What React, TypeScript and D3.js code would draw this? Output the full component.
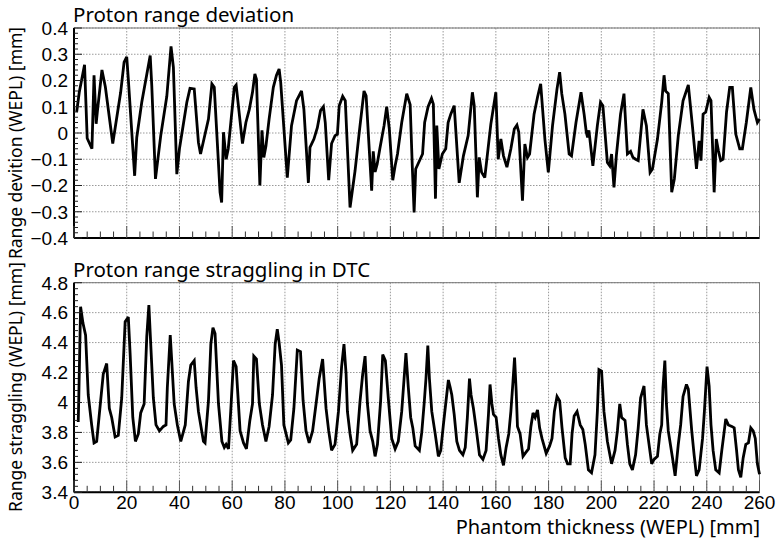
import React from "react";
import * as d3 from "d3";

// ---- data ----
const devThickness = [
  1, 2, 4, 5, 6.8, 7.6, 8.4, 8.9, 10.6, 11.9, 14.7, 17.7, 19, 20, 20.6, 23, 23.8, 25.7, 28.9, 29.5,
  30.9, 32.9, 35.2, 36.8, 37.7, 39, 40, 42.8, 44, 45.6, 47.2, 48, 51, 52.3, 53.2, 55.4, 56, 56.7, 57.7, 58.5,
  60.8, 61.5, 63.9, 65.2, 66.5, 67.7, 68.6, 69.2, 70.5, 71.3, 72, 72.8, 74, 75.6, 76.8, 77.8, 78.4, 80.9,
  82.5, 84.4, 86.3, 87.2, 88.9, 89.5, 91, 92.3, 93.5, 94.6, 95.3, 96.6, 97.7, 99, 99.9, 100.6, 101.9, 102.9,
  104.7, 106.6, 108.2, 110, 110.8, 112.9, 113.5, 114.2, 115, 116, 117.6, 118.6, 119.6, 120.9, 121.8, 122.7,
  124.3, 126.2, 127.5, 128.3, 129, 129.6, 131.3, 132.2, 133, 134.3, 135.6, 136.3, 137.1, 137.6, 138.4, 139.7,
  141, 141.9, 142.9, 144.2, 146.1, 147.7, 149.5, 151.1, 151.8, 153, 153.7, 154.6, 155.8, 158.1, 160, 160.9,
  161.9, 162.9, 164.2, 165.7, 167, 168, 168.7, 170.1, 171, 172, 172.8, 174.5, 175.8, 177, 178.6, 179.9,
  181.5, 183.2, 184.2, 185, 186.2, 187.8, 188.7, 190.4, 192.3, 193.5, 194.3, 194.8, 195.3, 196.8, 198.5,
  199.7, 200.6, 202.3, 203.2, 203.9, 204.8, 205.7, 207.3, 208.6, 209.9, 211.1, 212, 213, 214, 215.8, 217.1,
  218.5, 219.4, 221.3, 222.9, 223.8, 224.4, 225.4, 226.7, 227.7, 229.2, 231, 233, 234.6, 236.1, 237.1,
  237.8, 238.6, 239.6, 240.9, 241.6, 242.8, 243.6, 244.4, 245.3, 246.2, 247.5, 248.7, 249.7, 251, 252.5,
  253.5, 255, 256.7, 257.9, 259.2, 260,
];
const deviation = [
  0.08, 0.155, 0.26, -0.02, -0.06, 0.22, 0.035, 0.085, 0.24, 0.175, -0.04, 0.155, 0.27, 0.29, 0.205, -0.163, -0.017, 0.117, 0.295, 0.18,
  -0.175, -0.01, 0.14, 0.33, 0.25, -0.157, -0.06, 0.117, 0.17, 0.168, -0.036, -0.08, 0.053, 0.187, 0.174, -0.226, -0.265, 0.003, -0.1, -0.06,
  0.174, 0.183, -0.04, 0.04, 0.09, 0.155, 0.225, 0.205, -0.2, 0.01, -0.093, -0.05, 0.053, 0.174, 0.22, 0.244, 0.193, -0.17,
  0.028, 0.123, 0.16, 0.09, -0.19, -0.055, -0.023, 0.02, 0.085, 0.1, 0.04, -0.18, -0.04, -0.01, -0.005, 0.104, 0.14, 0.123,
  -0.284, -0.144, 0.003, 0.16, 0.142, -0.22, -0.07, -0.148, -0.118, -0.06, 0.028, 0.1, 0.015, -0.18, -0.125, -0.08,
  0.04, 0.15, 0.108, -0.125, -0.303, -0.137, -0.1, -0.08, 0.04, 0.1, 0.132, 0.11, -0.25, 0.028, -0.137, -0.08,
  -0.06, 0.04, 0.072, 0.104, -0.19, -0.087, -0.01, 0.155, 0.104, -0.245, -0.093, -0.15, -0.17, 0.034, 0.155, -0.1,
  -0.023, -0.087, -0.13, -0.06, 0.015, 0.03, 0.003, -0.258, -0.042, -0.093, -0.08, 0.072, 0.136, 0.187, -0.023, -0.15,
  0.028, 0.168, 0.232, 0.15, 0.072, -0.08, -0.087, 0.04, 0.155, 0.07, 0.003, -0.017, 0.01, -0.125, 0.028,
  0.117, 0.104, -0.112, -0.125, -0.08, -0.207, -0.087, 0.072, 0.15, -0.08, -0.07, -0.093, -0.1, -0.105, 0.09, 0.028,
  -0.15, -0.137, -0.023, 0.117, 0.22, 0.16, 0.15, -0.226, -0.175, -0.01, 0.123, 0.183, 0.022, -0.137, -0.03,
  -0.105, 0.072, 0.08, 0.136, 0.123, -0.226, -0.023, -0.067, -0.105, -0.1, 0.08, 0.174, 0.174, -0.004, -0.06,
  -0.06, 0.04, 0.174, 0.09, 0.04, 0.053,
];

const stragThickness = [
  1.6, 1.8, 2.5, 3.4, 4.4, 5.4, 6.7, 7.6, 8.6, 10.1, 11.1, 12.4, 13.4, 14.3, 15.6, 16.8, 18.1, 19.4, 20.6, 21.3,
  22.3, 23.3, 24.4, 25.3, 26.6, 27.6, 28.4, 29.1, 30.1, 31.1, 32.4, 33.9, 34.9, 35.4, 36.5, 37, 38, 39.2, 40.5, 42.2,
  43.4, 44.3, 45.6, 46.3, 47.2, 49.1, 49.7, 51, 51.9, 52.7, 53.5, 54.8, 56.1, 57, 57.7, 58.6, 59.5, 60.5, 61.5, 63,
  64.3, 65.4, 66.7, 67.7, 68.2, 69.2, 70.3, 71.5, 72.8, 74, 75.3, 76.3, 77.1, 77.8, 78.7, 79.6, 81.3, 82.2, 83.4,
  84.7, 85.9, 86.9, 88, 89.2, 90.5, 91.8, 93, 94.3, 95.6, 96.6, 97.7, 99, 100.3, 101.5, 102.4, 103.2, 103.7, 104.7,
  105.7, 107.2, 108.5, 109.5, 110.4, 111.3, 112.3, 113.3, 114.2, 115.1, 116.3, 117.1, 118.1, 119.2, 120.5, 121.8,
  123, 124.3, 125.2, 125.9, 126.8, 127.7, 128.5, 129.4, 131, 131.9, 132.8, 133.5, 134.2, 134.8, 135.7, 137, 138.2,
  139.1, 140.1, 141.1, 142, 142.7, 143.3, 144.2, 145.2, 146.2, 147.5, 148.4, 149.2, 150, 150.6, 151.5, 152.5, 153.8,
  155.1, 156.3, 157.2, 157.8, 158.5, 159.1, 160.1, 161, 161.9, 162.9, 163.9, 164.9, 165.7, 166.5, 167.1, 167.7,
  168.2, 169.2, 170.3, 171.1, 172.4, 173.3, 174.1, 174.9, 175.8, 176.6, 177.5, 179.1, 180.4, 181.3, 182.2, 183.2,
  184.2, 185.1, 186.3, 187.2, 188.2, 188.9, 189.7, 190.8, 192, 193, 193.9, 195.1, 196.3, 197.6, 198.5, 199.1, 200.1,
  201, 202.3, 203.9, 205.2, 206.1, 207, 207.7, 209, 209.9, 210.8, 211.8, 213, 214, 214.9, 216.2, 217.1, 218.1,
  219.1, 220, 221.3, 222.2, 222.9, 223.4, 224.1, 224.7, 225.4, 227, 228, 229.2, 230.1, 231, 232.3, 233, 234.3,
  235.2, 236.1, 237.1, 238.4, 239.1, 240.1, 240.9, 241.6, 242.4, 243.4, 244.7, 245.7, 246.5, 247.2, 248.2, 249.5,
  250.4, 251.3, 252, 252.9, 253.8, 254.8, 255.8, 256.7, 257.6, 258.4, 259.2, 260,
];
const straggling = [
  3.87, 4.02, 4.64, 4.53, 4.45, 4.05, 3.85, 3.73, 3.74, 4.01, 4.19, 4.26, 3.96, 3.9, 3.77, 3.78, 4.03, 4.54, 4.57, 4.32,
  3.9, 3.74, 3.79, 3.93, 3.99, 4.44, 4.65, 4.39, 4.03, 3.85, 3.81, 3.84, 3.85, 4.1, 4.45, 4.3, 3.99, 3.85, 3.74, 3.85,
  4.14, 4.25, 4.28, 4.1, 3.94, 3.74, 3.73, 4.01, 4.39, 4.5, 4.46, 3.99, 3.74, 3.7, 3.72, 3.69, 3.96, 4.28, 4.24, 3.81,
  3.73, 3.69, 3.88, 3.99, 4.31, 4.29, 3.99, 3.85, 3.74, 3.84, 4.05, 4.39, 4.49, 4.4, 4.25, 3.85, 3.73, 3.75, 3.96,
  4.35, 4.34, 4.01, 3.81, 3.73, 3.81, 3.99, 4.16, 4.29, 3.96, 3.81, 3.68, 3.72, 3.94, 4.24, 4.39, 4.19, 3.94, 3.79,
  3.68, 3.72, 4.01, 4.19, 4.31, 3.99, 3.81, 3.74, 3.64, 3.72, 4.01, 4.32, 4.28, 4.03, 3.76, 3.69,
  3.74, 3.94, 4.16, 4.33, 4.1, 3.9, 3.83, 3.71, 3.68, 3.8, 3.99, 4.16, 4.38, 4.16, 3.94, 3.79, 3.64,
  3.68, 3.85, 4.01, 4.15, 4.1, 4.05, 3.92, 3.74, 3.68, 3.65, 3.7, 3.9, 4.16, 4.05, 3.96, 3.83, 3.65,
  3.62, 3.68, 3.92, 4.12, 3.99, 3.92, 3.9, 3.76, 3.65, 3.58, 3.7, 3.79, 3.94, 4.14, 4.3, 4.08,
  3.84, 3.79, 3.64, 3.66, 3.69, 3.84, 3.93, 3.9, 3.95, 3.83, 3.76, 3.66, 3.71, 3.76, 3.94, 4.04,
  4.01, 3.83, 3.63, 3.59, 3.59, 3.79, 3.91, 3.94, 3.85, 3.82, 3.72, 3.55, 3.53, 3.65, 3.94, 4.22, 4.21,
  3.94, 3.74, 3.59, 3.68, 3.81, 3.99, 3.9, 3.88, 3.72, 3.59, 3.55, 3.65, 3.83, 4.03, 4.11, 3.85, 3.72,
  3.59, 3.62, 3.64, 3.79, 3.85, 4.1, 4.28, 3.99, 3.81, 3.63, 3.51, 3.72, 3.85, 4.04, 4.12, 4.09, 3.81,
  3.65, 3.51, 3.55, 3.76, 3.94, 4.24, 4.11, 3.85, 3.68, 3.55, 3.53, 3.68, 3.79, 3.89, 3.85, 3.84,
  3.83, 3.68, 3.55, 3.5, 3.63, 3.72, 3.73, 3.83, 3.81, 3.76, 3.59, 3.52,
];

const xTicks = [0, 20, 40, 60, 80, 100, 120, 140, 160, 180, 200, 220, 240, 260];
const xTickLabels = ["0", "20", "40", "60", "80", "100", "120", "140", "160", "180", "200", "220", "240", "260"];
const devTicks = [-0.4, -0.3, -0.2, -0.1, 0, 0.1, 0.2, 0.3, 0.4];
const devTickLabels = ["\u22120.4", "\u22120.3", "\u22120.2", "\u22120.1", "0", "0.1", "0.2", "0.3", "0.4"];
const stragTicks = [3.4, 3.6, 3.8, 4.0, 4.2, 4.4, 4.6, 4.8];
const stragTickLabels = ["3.4", "3.6", "3.8", "4", "4.2", "4.4", "4.6", "4.8"];
const panelTitles = ["Proton range deviation", "Proton range straggling in DTC"];
const yTitles = ["Range devition (WEPL) [mm]", "Range straggling (WEPL) [mm]"];
const xTitle = "Phantom thickness (WEPL) [mm]";

// ---- layout ----
const W = 778;
const H = 540;
const X0 = 74;
const X1 = 759.5;
const TICK_FONT = "'Liberation Sans', Arial, sans-serif";
const TITLE_FONT = "'Noto Sans', 'DejaVu Sans', sans-serif";

const xScale = d3.scaleLinear().domain([0, 260]).range([X0, X1]);

type PanelProps = {
  xs: number[];
  ys: number[];
  domain: [number, number];
  top: number;
  bottom: number;
  yTicks: number[];
  yLabels: string[];
  yMinorStep: number;
  title: string;
  yTitle: string;
  yTitleCenter: number;
  showXLabels: boolean;
};

function Panel(p: PanelProps) {
  const y = d3.scaleLinear().domain(p.domain).range([p.bottom, p.top]);
  const pts = p.xs.map((x, i) => [x, p.ys[i]] as [number, number]);
  const line = d3
    .line<[number, number]>()
    .x((d) => xScale(d[0]))
    .y((d) => y(d[1]));
  const xMinor = d3.range(0, 260.001, 5);
  const nMinor = Math.round((p.domain[1] - p.domain[0]) / p.yMinorStep);
  const yMinor = d3.range(0, nMinor + 1).map((i) => p.domain[0] + i * p.yMinorStep);
  return (
    <g>
      {/* grid */}
      {xTicks.map((t) => (
        <line key={"gx" + t} x1={xScale(t)} x2={xScale(t)} y1={p.top} y2={p.bottom}
          stroke="#9a9a9a" strokeWidth={1} strokeDasharray="1.5 1.5" />
      ))}
      {p.yTicks.map((t) => (
        <line key={"gy" + t} x1={X0} x2={X1} y1={y(t)} y2={y(t)}
          stroke="#9a9a9a" strokeWidth={1} strokeDasharray="1.5 1.5" />
      ))}
      {/* frame */}
      <rect x={X0} y={p.top} width={X1 - X0} height={p.bottom - p.top} fill="none" stroke="#777" strokeWidth={1} />
      {/* data */}
      <path d={line(pts) || ""} fill="none" stroke="#000" strokeWidth={2.8} strokeLinejoin="miter" strokeMiterlimit={3} />
      {/* axes */}
      <line x1={X0} x2={X0} y1={p.top} y2={p.bottom} stroke="#000" strokeWidth={2} />
      <line x1={X0} x2={X1} y1={p.bottom} y2={p.bottom} stroke="#000" strokeWidth={2} />
      {xMinor.map((t) => {
        const major = t % 20 === 0;
        return (
          <line key={"tx" + t} x1={xScale(t)} x2={xScale(t)} y1={p.bottom} y2={p.bottom - (major ? 12 : 6.5)}
            stroke={major ? "#555" : "#333"} strokeWidth={1} />
        );
      })}
      {yMinor.map((t, i) => {
        const major = p.yTicks.some((v) => Math.abs(v - t) < 1e-6);
        return (
          <line key={"ty" + i} x1={X0} x2={X0 + (major ? 8 : 4)} y1={y(t)} y2={y(t)} stroke="#222" strokeWidth={1} />
        );
      })}
      {/* y tick labels */}
      {p.yTicks.map((t, i) => (
        <text key={"ly" + t} x={68} y={y(t)} dy="0.36em" textAnchor="end" fontFamily={TICK_FONT} fontSize={19} fill="#000">
          {p.yLabels[i]}
        </text>
      ))}
      {p.showXLabels &&
        xTicks.map((t, i) => (
          <text key={"lx" + t} x={xScale(t)} y={509} textAnchor="middle" fontFamily={TICK_FONT} fontSize={19} fill="#000">
            {xTickLabels[i]}
          </text>
        ))}
      {/* titles */}
      <text x={X0 - 1} y={p.top - 6} fontFamily={TITLE_FONT} fontSize={20.5} fill="#000">
        {p.title}
      </text>
      <text transform={`translate(22,${p.yTitleCenter}) rotate(-90)`} textAnchor="middle" fontFamily={TITLE_FONT}
        fontSize={17.5} fill="#000">
        {p.yTitle}
      </text>
    </g>
  );
}

export default function App() {
  return (
    <svg width={W} height={H} viewBox={`0 0 ${W} ${H}`} style={{ position: "absolute", left: 0, top: 0, background: "#fff" }}>
      <rect x={0} y={0} width={W} height={H} fill="#fff" />
      <Panel xs={devThickness} ys={deviation} domain={[-0.4, 0.4]} top={28} bottom={238} yTicks={devTicks}
        yLabels={devTickLabels} yMinorStep={0.02} title={panelTitles[0]} yTitle={yTitles[0]} yTitleCenter={143}
        showXLabels={false} />
      <Panel xs={stragThickness} ys={straggling} domain={[3.4, 4.8]} top={282.7} bottom={492.3} yTicks={stragTicks}
        yLabels={stragTickLabels} yMinorStep={0.04} title={panelTitles[1]} yTitle={yTitles[1]} yTitleCenter={387}
        showXLabels={true} />
      <text x={760} y={534} textAnchor="end" fontFamily={TITLE_FONT} fontSize={20} fill="#000">
        {xTitle}
      </text>
    </svg>
  );
}
